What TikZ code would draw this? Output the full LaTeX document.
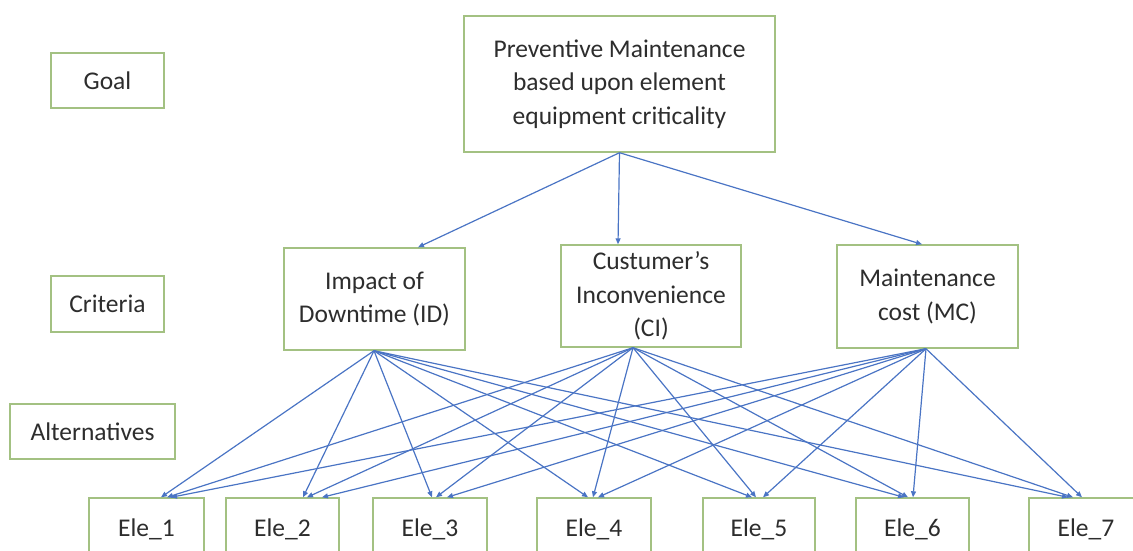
\documentclass[tikz,border=0pt]{standalone}
\usepackage{fontspec}
\setmainfont{Carlito}
\usetikzlibrary{arrows.meta}
\definecolor{boxgreen}{RGB}{163,193,130}
\definecolor{arrowblue}{RGB}{74,116,196}
\definecolor{txt}{RGB}{45,45,45}
\tikzset{
  box/.style={draw=boxgreen, line width=1.4pt, fill=white, text=txt, align=center,
    inner sep=0pt, font=\fontsize{25.5}{33.5}\selectfont},
  link/.style={draw=arrowblue, line width=1.2pt, -{Triangle[length=6pt,width=5pt]}},
}
\begin{document}
\begin{tikzpicture}[x=1pt,y=-1pt]
\begin{scope}
\clip (0,0) rectangle (1133,550);
% left labels
\node[box, minimum width=113pt, minimum height=55pt] (goal) at (107.5,80.5) {Goal};
\node[box, minimum width=113pt, minimum height=56pt] (crit) at (107.5,304) {Criteria};
\node[box, minimum width=165pt, minimum height=55pt] (alt) at (92.5,431.5) {Alternatives};
% goal
\node[box, minimum width=311pt, minimum height=136pt] (top) at (619.5,84)
  {Preventive Maintenance\\based upon element\\equipment criticality};
% criteria
\node[box, minimum width=181pt, minimum height=102pt] (id) at (374.5,299) {Impact of\\Downtime (ID)};
\node[box, minimum width=180pt, minimum height=102pt] (ci) at (651,296) {Custumer’s\\Inconvenience\\(CI)};
\node[box, minimum width=181pt, minimum height=103pt] (mc) at (927.5,296.5) {Maintenance\\cost (MC)};
% alternatives
\node[box, minimum width=115pt, minimum height=62pt] (e1) at (146.5,529) {Ele\_1};
\node[box, minimum width=113pt, minimum height=62pt] (e2) at (282.5,529) {Ele\_2};
\node[box, minimum width=114pt, minimum height=62pt] (e3) at (430,529) {Ele\_3};
\node[box, minimum width=114pt, minimum height=62pt] (e4) at (594,529) {Ele\_4};
\node[box, minimum width=112pt, minimum height=62pt] (e5) at (759,529) {Ele\_5};
\node[box, minimum width=113pt, minimum height=62pt] (e6) at (912.5,529) {Ele\_6};
\node[box, minimum width=114pt, minimum height=62pt] (e7) at (1086,529) {Ele\_7};
% goal -> criteria
\draw[link] (top.south) -- ([xshift=43.5pt]id.north);
\draw[link] (top.south) -- ([xshift=-33pt]ci.north);
\draw[link] (top.south) -- ([xshift=-5.5pt]mc.north);
% criteria -> alternatives
\coordinate (ido) at ([xshift=-0.5pt]id.south);
\coordinate (cio) at ([xshift=-18pt]ci.south);
\coordinate (mco) at ([xshift=-1.5pt]mc.south);
\draw[link] (ido) -- ([xshift=14.5pt]e1.north);
\draw[link] (cio) -- ([xshift=20.5pt]e1.north);
\draw[link] (mco) -- ([xshift=24.5pt]e1.north);
\draw[link] (ido) -- ([xshift=20.5pt]e2.north);
\draw[link] (cio) -- ([xshift=24.5pt]e2.north);
\draw[link] (mco) -- ([xshift=39.5pt]e2.north);
\draw[link] (ido) -- ([xshift=2pt]e3.north);
\draw[link] (cio) -- ([xshift=6pt]e3.north);
\draw[link] (mco) -- ([xshift=17pt]e3.north);
\draw[link] (ido) -- ([xshift=-6pt]e4.north);
\draw[link] (cio) -- ([xshift=-1pt]e4.north);
\draw[link] (mco) -- ([xshift=4pt]e4.north);
\draw[link] (ido) -- ([xshift=-7pt]e5.north);
\draw[link] (cio) -- ([xshift=-3pt]e5.north);
\draw[link] (mco) -- ([xshift=4pt]e5.north);
\draw[link] (ido) -- ([xshift=-8.5pt]e6.north);
\draw[link] (cio) -- ([xshift=-4.5pt]e6.north);
\draw[link] (mco) -- ([xshift=0.5pt]e6.north);
\draw[link] (ido) -- ([xshift=-18pt]e7.north);
\draw[link] (cio) -- ([xshift=-13pt]e7.north);
\draw[link] (mco) -- ([xshift=-4pt]e7.north);
\end{scope}
\pgfresetboundingbox
\useasboundingbox (0,0) rectangle (1133,550);
\end{tikzpicture}
\end{document}
